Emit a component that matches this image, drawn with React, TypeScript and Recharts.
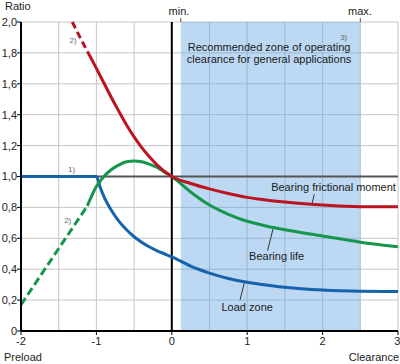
import { LineChart, Line, XAxis, YAxis, CartesianGrid, ReferenceArea, ReferenceLine, ReferenceDot } from 'recharts';

// clearance values (x) shared by every series, negative = preload
const xs = [-2, -1.32, -1.2, -1.12, -1, -0.95, -0.9, -0.8, -0.7, -0.6, -0.5, -0.4, -0.3, -0.2, -0.1, 0, 0.25, 0.5, 0.75, 1, 1.25, 1.5, 2, 2.5, 3];

const frictionDashed = [null, 2.0, 1.885, 1.81, null, null, null, null, null, null, null, null, null, null, null, null, null, null, null, null, null, null, null, null, null];
const friction = [null, null, null, 1.81, 1.7, 1.652, 1.605, 1.51, 1.42, 1.334, 1.257, 1.189, 1.129, 1.077, 1.034, 1.0, 0.955, 0.92, 0.89, 0.865, 0.848, 0.835, 0.815, 0.805, 0.805];
const lifeDashed = [0.17, null, null, 0.81, null, null, null, null, null, null, null, null, null, null, null, null, null, null, null, null, null, null, null, null, null];
const life = [null, null, null, 0.81, 0.935, 0.97, 1.0, 1.045, 1.075, 1.095, 1.1, 1.095, 1.08, 1.06, 1.03, 1.0, 0.9, 0.815, 0.755, 0.71, 0.68, 0.655, 0.615, 0.575, 0.545];
const loadZone = [1.0, 1.0, 1.0, 1.0, 1.0, 0.93, 0.87, 0.78, 0.71, 0.655, 0.61, 0.575, 0.545, 0.52, 0.5, 0.48, 0.42, 0.375, 0.34, 0.315, 0.298, 0.283, 0.265, 0.257, 0.255];

const xTicks = [-2, -1, 0, 1, 2, 3];
const gridX = [-2, -1.5, -1, -0.5, 0, 0.5, 1, 1.5, 2, 2.5, 3];
const yTicks = [0, 0.2, 0.4, 0.6, 0.8, 1.0, 1.2, 1.4, 1.6, 1.8, 2.0];

// recommended operating clearance
const zoneMin = 0.12;
const zoneMax = 2.5;

// annotations in data units
const notes = [
  { text: '1)', x: -1.33, y: 1.05, small: true },
  { text: '2)', x: -1.31, y: 1.88, small: true },
  { text: '2)', x: -1.38, y: 0.72, small: true },
  { text: '3)', x: 2.28, y: 1.9, small: true },
  { text: 'Recommended zone of operating', x: 1.29, y: 1.835 },
  { text: 'clearance for general applications', x: 1.29, y: 1.76 },
  { text: 'Bearing frictional moment', x: 2.145, y: 0.933 },
  { text: 'Bearing life', x: 1.39, y: 0.484 },
  { text: 'Load zone', x: 1.0, y: 0.156 },
];

const leaders = [
  [{ x: 1.89, y: 0.885 }, { x: 1.86, y: 0.825 }],
  [{ x: 1.27, y: 0.52 }, { x: 1.35, y: 0.675 }],
  [{ x: 0.905, y: 0.2 }, { x: 0.96, y: 0.31 }],
];

const data = xs.map((x, i) => ({
  x,
  frictionDashed: frictionDashed[i],
  friction: friction[i],
  lifeDashed: lifeDashed[i],
  life: life[i],
  loadZone: loadZone[i],
}));

const RED = '#bb1420';
const GREEN = '#15964a';
const BLUE = '#1463ab';

const fmtY = (v: number) => (v === 0 ? '0' : v.toFixed(1).replace('.', ','));

export default function App() {
  return (
    <div style={{ position: 'absolute', left: 0, top: 0, fontFamily: 'Arial, "Liberation Sans", sans-serif' }}>
      <LineChart width={400} height={364} data={data} margin={{ top: 22, right: 2, bottom: 13, left: 0 }}>
        <CartesianGrid stroke="#c6c6c6" verticalValues={gridX} horizontalValues={yTicks} />
        <ReferenceArea x1={zoneMin} x2={zoneMax} y1={0} y2={2} fill="#5fa3e0" fillOpacity={0.42} stroke="none" />
        <XAxis
          dataKey="x"
          type="number"
          domain={[-2, 3]}
          ticks={xTicks}
          height={20}
          axisLine={{ stroke: '#000', strokeWidth: 2 }}
          tickLine={{ stroke: '#000' }}
          tickSize={4}
          tickMargin={2}
          tick={{ fontSize: 11, fill: '#222' }}
          allowDataOverflow
        />
        <YAxis
          type="number"
          domain={[0, 2]}
          ticks={yTicks}
          width={21}
          axisLine={{ stroke: '#000', strokeWidth: 2 }}
          tickLine={{ stroke: '#000' }}
          tickSize={4}
          tickMargin={0}
          tickFormatter={fmtY}
          tick={{ fontSize: 11, fill: '#222' }}
        />
        <ReferenceLine y={1} stroke="#555" strokeWidth={2} />
        <ReferenceLine x={0} stroke="#000" strokeWidth={2} />
        <ReferenceLine segment={[{ x: zoneMin, y: 2 }, { x: zoneMin, y: 2.025 }]} stroke="#555" ifOverflow="visible" />
        <ReferenceLine segment={[{ x: zoneMax, y: 2 }, { x: zoneMax, y: 2.025 }]} stroke="#555" ifOverflow="visible" />
        {leaders.map((seg, i) => (
          <ReferenceLine key={i} segment={seg} stroke="#333" strokeWidth={1} />
        ))}
        <Line type="monotone" dataKey="loadZone" stroke={BLUE} strokeWidth={3} dot={false} isAnimationActive={false} />
        <Line type="linear" dataKey="lifeDashed" stroke={GREEN} strokeWidth={3} strokeDasharray="8 4" dot={false} connectNulls isAnimationActive={false} />
        <Line type="monotone" dataKey="life" stroke={GREEN} strokeWidth={3} dot={false} isAnimationActive={false} />
        <Line type="monotone" dataKey="frictionDashed" stroke={RED} strokeWidth={3} strokeDasharray="7 4" dot={false} isAnimationActive={false} />
        <Line type="monotone" dataKey="friction" stroke={RED} strokeWidth={3} dot={false} isAnimationActive={false} />
        {notes.map((n, i) => (
          <ReferenceDot
            key={i}
            x={n.x}
            y={n.y}
            r={0}
            fill="none"
            stroke="none"
            label={{ value: n.text, position: 'center', fontSize: n.small ? 8 : 11, fill: n.small ? '#666' : '#1a1a1a' }}
          />
        ))}
        <text x={5} y={10} fontSize={11} fill="#222">Ratio</text>
        <text x={179} y={15} fontSize={11} fill="#222" textAnchor="middle">min.</text>
        <text x={360} y={15} fontSize={11} fill="#222" textAnchor="middle">max.</text>
        <text x={4} y={361} fontSize={11} fill="#222">Preload</text>
        <text x={399} y={361} fontSize={11} fill="#222" textAnchor="end">Clearance</text>
      </LineChart>
    </div>
  );
}
